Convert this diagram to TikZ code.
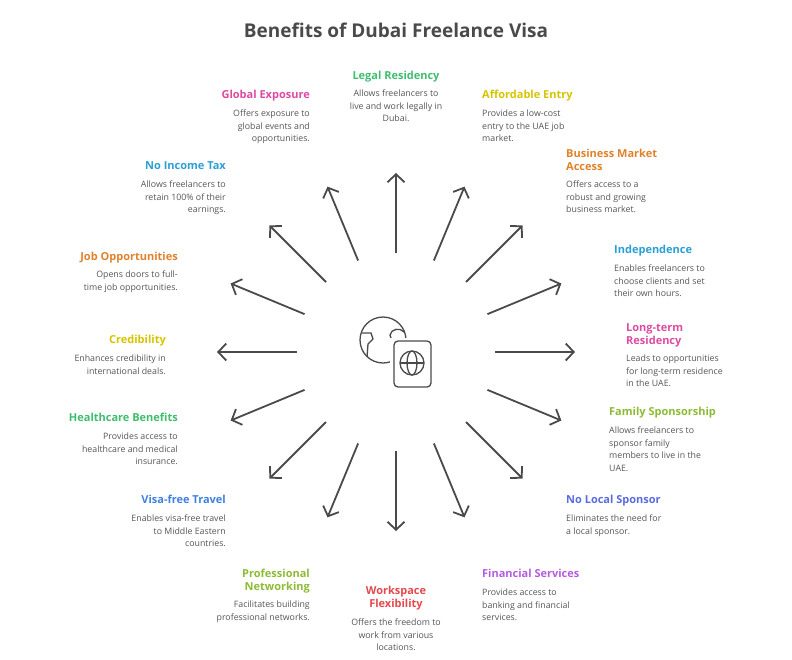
\documentclass[tikz,border=0pt]{standalone}
\usepackage{fontspec}
\setmainfont{Open Sans}
\usetikzlibrary{arrows.meta,calc}
\definecolor{ink}{HTML}{4A4A4A}
\definecolor{txt}{HTML}{555555}
\definecolor{cgreen}{HTML}{3DBE6E}
\definecolor{cyellow}{HTML}{D6C400}
\definecolor{corange}{HTML}{E0822A}
\definecolor{ccyan}{HTML}{2A9FD6}
\definecolor{cpink}{HTML}{DE4AA2}
\definecolor{clime}{HTML}{8DBB35}
\definecolor{cblue}{HTML}{5A6BE0}
\definecolor{cpurple}{HTML}{B45CE0}
\definecolor{cred}{HTML}{E5484D}
\definecolor{cazure}{HTML}{3E80E0}

\begin{document}
\begin{tikzpicture}[x=1pt,y=-1pt,
    ray/.style={ink, line width=1.8pt, -{Straight Barb[length=8pt,width=17pt]}},
    head/.style={font=\fontsize{11}{13}\selectfont\bfseries, inner sep=0pt, yshift=-2pt},
    desc/.style={font=\fontsize{8.8}{12.5}\selectfont, text=txt, inner sep=0pt, yshift=-2pt}]
    \useasboundingbox (0,0) rectangle (792,659);
    % title
    \node[font=\fontsize{19}{22}\selectfont\bfseries, text=ink] (title) at (396,30) {Benefits of Dubai Freelance Visa};
    % rays around the centre
    \coordinate (c) at (396,352);
    \foreach \a in {0,22.5,...,337.5} {
        \draw[ray] ($(c)+(\a:99)$) -- ($(c)+(\a:179)$);
    }
    % icon: globe and passport
    \draw[ink, line width=1.3pt] (383,340) circle (23);
    \draw[ink, line width=1.3pt] (362,333) -- (371,333) -- (373,339) -- (368,344) -- (367,357);
    \draw[ink, line width=1.3pt] (392,341) -- (390,335) .. controls (391,329) and (400,327) .. (404,332);
    \fill[white] (390,338) rectangle (436,392);
    \draw[ink, line width=1.3pt, rounded corners=4pt] (394,341) rectangle (431,387);
    \draw[ink, line width=1.3pt] (412,363) circle (12);
    \draw[ink, line width=1.3pt] (412,363) ellipse (5 and 12);
    \draw[ink, line width=1.3pt] (400,363) -- (424,363);
    % upper labels
    \node[head, text=cgreen, anchor=north] (legal) at (396,69) {Legal Residency};
    \node[desc, anchor=north, align=center] (legald) at (396,88) {Allows freelancers to\\live and work legally in\\Dubai.};
    \node[head, text=cyellow, anchor=north west] (entry) at (482,88) {Affordable Entry};
    \node[desc, anchor=north west, align=left] (entryd) at (482,108) {Provides a low-cost\\entry to the UAE job\\market.};
    \node[head, text=corange, anchor=north west, align=left] (market) at (566,147) {Business Market\\Access};
    \node[desc, anchor=north west, align=left] (marketd) at (566,179) {Offers access to a\\robust and growing\\business market.};
    \node[head, text=ccyan, anchor=north west] (indep) at (614,243) {Independence};
    \node[desc, anchor=north west, align=left] (indepd) at (614,263) {Enables freelancers to\\choose clients and set\\their own hours.};
    % right labels
    \node[head, text=cpink, anchor=north west, align=left] (longterm) at (626,321) {Long-term\\Residency};
    \node[desc, anchor=north west, align=left] (longtermd) at (626,353) {Leads to opportunities\\for long-term residence\\in the UAE.};
    \node[head, text=clime, anchor=north west] (family) at (609,405) {Family Sponsorship};
    \node[desc, anchor=north west, align=left] (familyd) at (609,425) {Allows freelancers to\\sponsor family\\members to live in the\\UAE.};
    \node[head, text=cblue, anchor=north west] (sponsor) at (566,493) {No Local Sponsor};
    \node[desc, anchor=north west, align=left] (sponsord) at (566,513) {Eliminates the need for\\a local sponsor.};
    \node[head, text=cpurple, anchor=north west] (finance) at (482,567) {Financial Services};
    \node[desc, anchor=north west, align=left] (financed) at (482,587) {Provides access to\\banking and financial\\services.};
    % lower labels
    \node[head, text=cred, anchor=north, align=center] (work) at (396,584) {Workspace\\Flexibility};
    \node[desc, anchor=north, align=center] (workd) at (396,617) {Offers the freedom to\\work from various\\locations.};
    \node[head, text=clime, anchor=north east, align=right] (network) at (310,567) {Professional\\Networking};
    \node[desc, anchor=north east, align=right] (networkd) at (310,599) {Facilitates building\\professional networks.};
    \node[head, text=cazure, anchor=north east] (travel) at (226,493) {Visa-free Travel};
    \node[desc, anchor=north east, align=right] (traveld) at (226,513) {Enables visa-free travel\\to Middle Eastern\\countries.};
    \node[head, text=cgreen, anchor=north east] (health) at (178,411) {Healthcare Benefits};
    \node[desc, anchor=north east, align=right] (healthd) at (178,431) {Provides access to\\healthcare and medical\\insurance.};
    % left labels
    \node[head, text=cyellow, anchor=north east] (cred) at (166,333) {Credibility};
    \node[desc, anchor=north east, align=right] (credd) at (166,353) {Enhances credibility in\\international deals.};
    \node[head, text=corange, anchor=north east] (jobs) at (178,250) {Job Opportunities};
    \node[desc, anchor=north east, align=right] (jobsd) at (178,269) {Opens doors to full-\\time job opportunities.};
    \node[head, text=ccyan, anchor=north east] (tax) at (226,159) {No Income Tax};
    \node[desc, anchor=north east, align=right] (taxd) at (226,179) {Allows freelancers to\\retain 100\% of their\\earnings.};
    \node[head, text=cpink, anchor=north east] (global) at (310,88) {Global Exposure};
    \node[desc, anchor=north east, align=right] (globald) at (310,108) {Offers exposure to\\global events and\\opportunities.};
\end{tikzpicture}
\end{document}
